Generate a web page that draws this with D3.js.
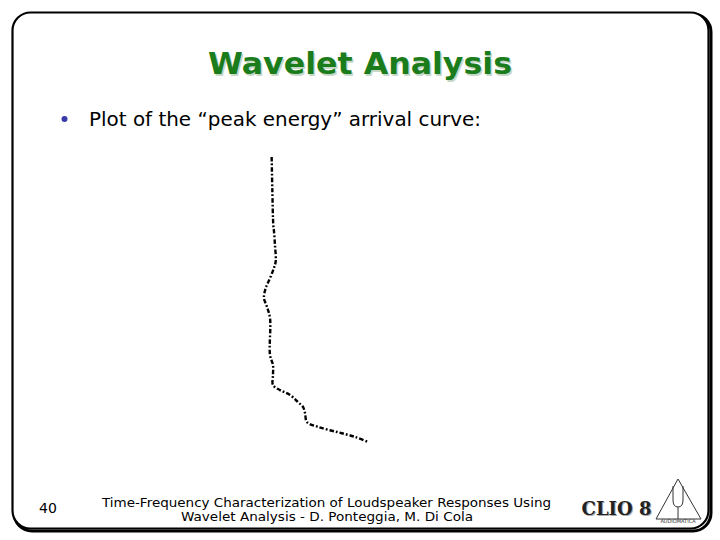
<!DOCTYPE html>
<html><head><meta charset="utf-8">
<script src="https://cdn.jsdelivr.net/npm/d3@7/dist/d3.min.js"></script>
<style>body{margin:0;background:#fff}svg{display:block}</style>
</head><body>
<script>
// Peak energy arrival curve (arrival time, ms-like units vs. frequency band index)
const arrivalTime = [1.06,1.12,1.21,1.27,1.36,1.43,1.27,0.91,0.52,0.36,0.61,0.91,0.91,1.18,1.18,1.18,1.82,2.73,3.45,3.91,4.09,4.27,5.27,7.0,8.64,9.82];
const bandIndex   = [0,11.6,23.9,26,30.9,36.5,38.9,42.5,46,49.5,52.3,56.5,69.5,73,76.5,80,81.8,83.5,86,87.7,89.8,93,94.7,96.5,98.2,100];
const titleText = "Wavelet Analysis";
const bulletText = "Plot of the \u201Cpeak energy\u201D arrival curve:";
const pageNumber = "40";
const footerLines = ["Time-Frequency Characterization of Loudspeaker Responses Using","Wavelet Analysis - D. Ponteggia, M. Di Cola"];

const W=720,H=540;
const svg=d3.select("body").append("svg").attr("width",W).attr("height",H);

// frame with shadow
svg.append("rect").attr("x",14).attr("y",14).attr("width",697).attr("height",517).attr("rx",18)
  .attr("fill","none").attr("stroke","#000").attr("stroke-width",3);
svg.append("rect").attr("x",12.5).attr("y",12.5).attr("width",696).attr("height",516).attr("rx",18)
  .attr("fill","#fff").attr("stroke","#000").attr("stroke-width",2.2);

// title
svg.append("text").attr("x",361.5).attr("y",75.5).attr("text-anchor","middle")
  .attr("font-family","DejaVu Sans").attr("font-weight","bold").attr("font-size",30)
  .attr("textLength",304).attr("lengthAdjust","spacingAndGlyphs")
  .attr("fill","#c8d8c8").text(titleText);
svg.append("text").attr("x",360).attr("y",74).attr("text-anchor","middle")
  .attr("font-family","DejaVu Sans").attr("font-weight","bold").attr("font-size",30)
  .attr("textLength",304).attr("lengthAdjust","spacingAndGlyphs")
  .attr("fill","#1a7c1a").text(titleText);

// bullet
svg.append("circle").attr("cx",64.5).attr("cy",119).attr("r",3).attr("fill","#3a3aa8");
svg.append("text").attr("x",89).attr("y",125.5).attr("font-family","DejaVu Sans")
  .attr("font-size",19.5).attr("textLength",392).attr("lengthAdjust","spacingAndGlyphs")
  .attr("fill","#000").text(bulletText);

// curve
const x=d3.scaleLinear().domain([0,10]).range([260,370]);
const y=d3.scaleLinear().domain([0,100]).range([157,442]);
const pts=arrivalTime.map((t,i)=>[t,bandIndex[i]]);
const line=d3.line().x(d=>x(d[0])).y(d=>y(d[1])).curve(d3.curveCatmullRom.alpha(0.5));
svg.append("path").attr("d",line(pts)).attr("fill","none").attr("stroke","#000")
  .attr("stroke-width",2.4).attr("stroke-dasharray","4.5,2,1.8,2");

// footer
svg.append("text").attr("x",48).attr("y",513).attr("text-anchor","middle")
  .attr("font-family","DejaVu Sans").attr("font-size",14).text(pageNumber);
svg.append("text").attr("x",326.5).attr("y",507).attr("text-anchor","middle")
  .attr("font-family","DejaVu Sans").attr("font-size",12).attr("textLength",449)
  .attr("lengthAdjust","spacingAndGlyphs").text(footerLines[0]);
svg.append("text").attr("x",327).attr("y",521).attr("text-anchor","middle")
  .attr("font-family","DejaVu Sans").attr("font-size",12).attr("textLength",292)
  .attr("lengthAdjust","spacingAndGlyphs").text(footerLines[1]);

// CLIO 8 logo
svg.append("text").attr("x",617.5).attr("y",515.5).attr("text-anchor","middle")
  .attr("font-family","DejaVu Serif").attr("font-weight","bold").attr("font-size",18)
  .attr("fill","#aaa").text("CLIO 8");
svg.append("text").attr("x",616.5).attr("y",514.5).attr("text-anchor","middle")
  .attr("font-family","DejaVu Serif").attr("font-weight","bold").attr("font-size",18)
  .attr("fill","#222").text("CLIO 8");
const g=svg.append("g").attr("stroke","#333").attr("fill","none").attr("stroke-width",1);
g.append("path").attr("d","M678,479 L656,519 L701,519 Z");
g.append("path").attr("d","M673,486 L673,500 Q673,507 678,507 Q683,507 683,500 L683,486");
g.append("path").attr("d","M678,507 L678,519");
svg.append("text").attr("x",678).attr("y",523).attr("text-anchor","middle")
  .attr("font-family","DejaVu Sans").attr("font-size",5).attr("fill","#333").text("AUDIOMATICA");
</script>
</body></html>
